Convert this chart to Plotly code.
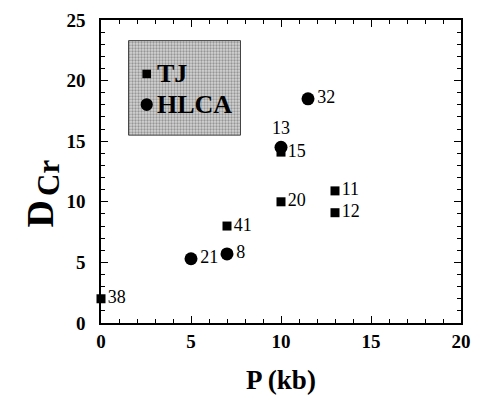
import plotly.graph_objects as go

# TJ data (squares)
tj_p = [0, 7, 10, 10, 13, 13]
tj_d = [2.0, 8.0, 14.1, 10.0, 10.9, 9.1]
tj_labels = ["38", "41", "15", "20", "11", "12"]

# HLCA data (circles)
hl_p = [11.5, 10, 5, 7]
hl_d = [18.5, 14.5, 5.3, 5.7]
hl_labels = ["32", "13", "21", "8"]
hl_textpos = ["middle right", "top center", "middle right", "middle right"]

x_ticks = [0, 5, 10, 15, 20]
y_ticks = [0, 5, 10, 15, 20, 25]

# legend panel extent (data units)
box_x = [1.53, 7.75]
box_y = [15.5, 23.3]

serif = "Liberation Serif"

fig = go.Figure()
# stippled legend panel
fig.add_trace(go.Scatter(
    x=[box_x[0], box_x[1], box_x[1], box_x[0], box_x[0]],
    y=[box_y[0], box_y[0], box_y[1], box_y[1], box_y[0]],
    mode="lines", fill="toself", line=dict(color="#444", width=1),
    fillcolor="#c4c4c4",
    fillpattern=dict(shape=".", size=3, solidity=0.45, fgcolor="#555555", bgcolor="#d4d4d4"),
    hoverinfo="skip", showlegend=False))
fig.add_trace(go.Scatter(
    x=tj_p, y=tj_d, mode="markers+text", text=tj_labels,
    textposition="middle right",
    textfont=dict(family=serif, size=18, color="black"),
    marker=dict(symbol="square", size=9, color="black"),
    showlegend=False, cliponaxis=False))
fig.add_trace(go.Scatter(
    x=hl_p, y=hl_d, mode="markers+text",
    text=hl_labels,
    textposition=hl_textpos,
    textfont=dict(family=serif, size=18, color="black"),
    marker=dict(symbol="circle", size=13, color="black"),
    showlegend=False, cliponaxis=False))

# legend entries
fig.add_shape(type="rect", x0=2.3, x1=2.78, y0=20.2, y1=20.9,
              fillcolor="black", line=dict(width=0))
fig.add_shape(type="circle", x0=2.2, x1=2.88, y0=17.5, y1=18.55,
              fillcolor="black", line=dict(width=0))
fig.add_annotation(x=3.0, y=20.55, text="<b>TJ</b>", showarrow=False, xanchor="left",
                   font=dict(family=serif, size=26, color="black"))
fig.add_annotation(x=3.0, y=18.0, text="<b>HLCA</b>", showarrow=False, xanchor="left",
                   font=dict(family=serif, size=26, color="black"))

# y-axis title D_Cr
fig.add_annotation(xref="paper", yref="paper", x=-0.17, y=0.412, text="<b>D</b>", textangle=-90,
                   showarrow=False, xanchor="center", yanchor="top",
                   font=dict(family=serif, size=38, color="black"))
fig.add_annotation(xref="paper", yref="paper", x=-0.148, y=0.412, text="<b>Cr</b>", textangle=-90,
                   showarrow=False, xanchor="center", yanchor="bottom",
                   font=dict(family=serif, size=31, color="black"))

axis_common = dict(
    showgrid=False, zeroline=False, showline=True, linecolor="black", linewidth=1.5,
    mirror="allticks", ticks="inside", ticklen=7, tickwidth=1.2, tickcolor="black",
    tickfont=dict(family=serif, size=19, color="black"),
)
fig.update_xaxes(range=[0, 20], tickvals=x_ticks, ticktext=[f"<b>{v}</b>" for v in x_ticks],
                 minor=dict(ticks="inside", ticklen=4, dtick=1, tickcolor="black", tickwidth=1.2),
                 title=dict(text="<b>P (kb)</b>", font=dict(family=serif, size=27, color="black"),
                            standoff=20),
                 **axis_common)
fig.update_yaxes(range=[0, 25], tickvals=y_ticks, ticktext=[f"<b>{v}</b>" for v in y_ticks],
                 minor=dict(ticks="inside", ticklen=4, dtick=1, tickcolor="black", tickwidth=1.2),
                 ticklabelstandoff=10,
                 **axis_common)

fig.update_layout(width=481, height=402, margin=dict(l=101, r=10, t=16, b=79),
                  plot_bgcolor="white", paper_bgcolor="white", showlegend=False)

fig.write_html("out.html")
